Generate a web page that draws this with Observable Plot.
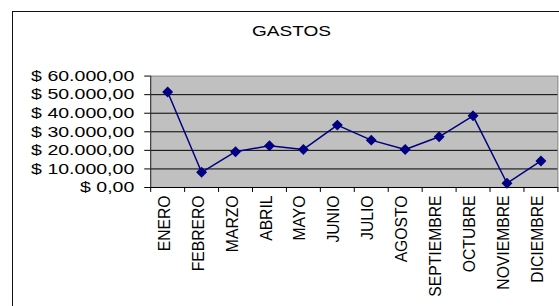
<!DOCTYPE html>
<html>
<head>
<meta charset="utf-8">
<script src="https://cdn.jsdelivr.net/npm/d3@7"></script>
<script src="https://cdn.jsdelivr.net/npm/@observablehq/plot@0.6"></script>
<style>
  html, body { margin: 0; padding: 0; background: #fff; width: 559px; height: 306px; overflow: hidden; position: relative; }
  #frame { position: absolute; left: 12px; top: 11px; width: 600px; height: 320px; border: 1.5px solid #111; box-sizing: border-box; }
  #title { position: absolute; left: 0; width: 583px; top: 22px; text-align: center; font-family: "Liberation Sans", Arial, sans-serif; font-size: 15px; color: #000; transform-origin: 291.5px 0; transform: scaleX(1.27); }
  #chart { position: absolute; left: 0; top: 0; }
</style>
</head>
<body>
<div id="frame"></div>
<div id="title">GASTOS</div>
<div id="chart"></div>
<script>
const title = "GASTOS";
const months = ["ENERO","FEBRERO","MARZO","ABRIL","MAYO","JUNIO","JULIO","AGOSTO","SEPTIEMBRE","OCTUBRE","NOVIEMBRE","DICIEMBRE"];
const gastos = [51400, 8200, 19300, 22500, 20500, 33600, 25500, 20500, 27300, 38600, 2300, 14300];
const yTicks = [0, 10000, 20000, 30000, 40000, 50000, 60000];

const locale = d3.formatLocale({decimal: ",", thousands: ".", grouping: [3], currency: ["$ ", ""]});
const fmt = locale.format("$,.2f");

const data = months.map((m, i) => ({i, mes: m, valor: gastos[i]}));
const idx = months.map((m, i) => i);
const bounds = months.map((m, i) => i - 0.5).concat([months.length - 0.5]);
const grid = yTicks.filter(v => v > 0 && v < 60000);

const chart = Plot.plot({
  width: 562,
  height: 306,
  marginLeft: 151,
  marginRight: 1.6,
  marginTop: 76,
  marginBottom: 118,
  style: {fontFamily: "'Liberation Sans', Arial, sans-serif", fontSize: "15px", color: "#000", background: "transparent", overflow: "visible"},
  x: {type: "linear", domain: [-0.5, months.length - 0.5]},
  y: {domain: [0, 60000]},
  marks: [
    Plot.frame({fill: "#c0c0c0", stroke: "#808080"}),
    Plot.ruleY(grid, {stroke: "#000", strokeWidth: 1}),
    Plot.ruleY([0], {stroke: "#000", strokeWidth: 1}),
    Plot.ruleX([-0.5], {stroke: "#333", strokeWidth: 1}),
    Plot.axisY({ticks: yTicks, tickSize: 6, tickPadding: 10.5, tickFormat: fmt, fontSize: 15, label: null}),
    Plot.axisX({ticks: bounds, tickSize: 5, tickFormat: () => "", label: null}),
    Plot.axisX({ticks: idx, tickSize: 0, tickPadding: 8, tickRotate: -90, tickFormat: i => months[i], fontSize: 15.8, label: null, dx: -3}),
    Plot.line(data, {x: "i", y: "valor", stroke: "#000080", strokeWidth: 1.5}),
    Plot.dot(data, {x: "i", y: "valor", symbol: "diamond2", r: 4, fill: "#000080", stroke: "#000080"})
  ]
});
document.getElementById("chart").appendChild(chart);
document.getElementById("title").textContent = title;

// Excel-style horizontally stretched y-axis labels (scale around the text's end anchor)
chart.querySelectorAll('g[aria-label="y-axis tick label"] text').forEach(t => {
  const tr = t.getAttribute("transform") || "";
  t.setAttribute("transform", `${tr} scale(1.31,1)`);
});
</script>
</body>
</html>
